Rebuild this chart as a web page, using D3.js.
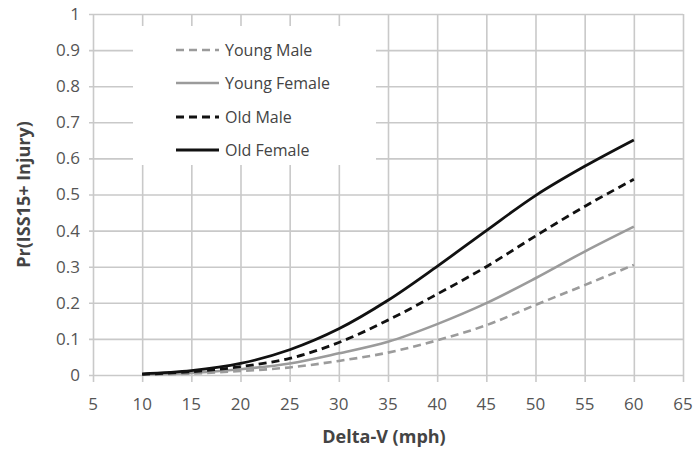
<!DOCTYPE html>
<html>
<head>
<meta charset="utf-8">
<script src="https://cdn.jsdelivr.net/npm/d3@7"></script>
<style>
  body { margin: 0; background: #fff; }
  svg { display: block; font-family: "Open Sans", "DejaVu Sans", sans-serif; }
</style>
</head>
<body>
<svg id="chart" width="696" height="453"></svg>
<script>
// Delta-V (mph) sample points
const deltaV = [10, 15, 20, 25, 30, 35, 40, 45, 50, 55, 60];

// Probability of ISS15+ injury per group
const youngMale   = [0.001, 0.004, 0.011, 0.021, 0.039, 0.062, 0.096, 0.138, 0.194, 0.249, 0.305];
const youngFemale = [0.002, 0.006, 0.016, 0.032, 0.060, 0.092, 0.141, 0.199, 0.268, 0.342, 0.411];
const oldMale     = [0.002, 0.009, 0.023, 0.046, 0.090, 0.152, 0.224, 0.300, 0.385, 0.467, 0.542];
const oldFemale   = [0.003, 0.012, 0.032, 0.070, 0.128, 0.207, 0.301, 0.400, 0.497, 0.578, 0.651];

const xTicks = [5, 10, 15, 20, 25, 30, 35, 40, 45, 50, 55, 60, 65];
const yTicks = [0, 0.1, 0.2, 0.3, 0.4, 0.5, 0.6, 0.7, 0.8, 0.9, 1];

const seriesNames = ["Young Male", "Young Female", "Old Male", "Old Female"];
const seriesValues = [youngMale, youngFemale, oldMale, oldFemale];
const seriesStyle = [
  { color: "#9b9b9b", dash: "8,5", width: 2.6 },
  { color: "#9b9b9b", dash: null, width: 2.6 },
  { color: "#111", dash: "8,5", width: 2.8 },
  { color: "#111", dash: null, width: 2.8 }
];

const svg = d3.select("#chart");
const margin = { left: 93, right: 13, top: 14, bottom: 78 };
const W = 696, H = 453;

const x = d3.scaleLinear().domain([5, 65]).range([margin.left, W - margin.right]);
const y = d3.scaleLinear().domain([0, 1]).range([H - margin.bottom, margin.top]);

const gridColor = "#c9c9c9";

// vertical grid + bottom tick marks
svg.append("g")
  .attr("transform", `translate(0,${y(0)})`)
  .call(d3.axisBottom(x).tickValues(xTicks).tickSize(-(y(0) - y(1))).tickSizeOuter(0).tickFormat(""))
  .call(g => g.select(".domain").remove())
  .call(g => g.selectAll("line").attr("stroke", gridColor).attr("stroke-width", 1.6)
    .attr("y2", -(y(0) - y(1))).attr("y1", 7));

// horizontal grid + left tick marks
svg.append("g")
  .attr("transform", `translate(${x(5)},0)`)
  .call(d3.axisLeft(y).tickValues(yTicks).tickSize(-(x(65) - x(5))).tickFormat(""))
  .call(g => g.select(".domain").remove())
  .call(g => g.selectAll("line").attr("stroke", gridColor).attr("stroke-width", 1.6)
    .attr("x1", -4));

// tick labels
svg.append("g").selectAll("text").data(xTicks).join("text")
  .attr("x", d => x(d)).attr("y", y(0) + 29).attr("dy", "0.35em")
  .attr("text-anchor", "middle")
  .attr("font-size", 17).attr("fill", "#555")
  .text(d => d);

svg.append("g").selectAll("text").data(yTicks).join("text")
  .attr("x", 80).attr("y", d => y(d)).attr("dy", "0.35em")
  .attr("text-anchor", "end")
  .attr("font-size", 17).attr("fill", "#555")
  .text(d => d3.format("~g")(d));

// axis titles
svg.append("text")
  .attr("x", 384).attr("y", 437).attr("dy", "0.35em")
  .attr("text-anchor", "middle")
  .attr("font-size", 18).attr("font-weight", "bold").attr("fill", "#444")
  .text("Delta-V (mph)");

svg.append("text")
  .attr("transform", `translate(24,${y(0.5)}) rotate(-90)`)
  .attr("text-anchor", "middle").attr("dy", "0.35em")
  .attr("font-size", 18).attr("font-weight", "bold").attr("fill", "#444")
  .text("Pr(ISS15+ Injury)");

// legend box
const legend = svg.append("g");
legend.append("rect")
  .attr("x", 133).attr("y", 26).attr("width", 243).attr("height", 139)
  .attr("fill", "#fff");

const legendY = [50, 83, 117, 150];
seriesNames.forEach((name, i) => {
  legend.append("line")
    .attr("x1", 176).attr("x2", 219)
    .attr("y1", legendY[i]).attr("y2", legendY[i])
    .attr("stroke", seriesStyle[i].color).attr("stroke-width", seriesStyle[i].width)
    .attr("stroke-dasharray", seriesStyle[i].dash);
  legend.append("text")
    .attr("x", 225).attr("y", legendY[i]).attr("dy", "0.35em")
    .attr("font-size", 16).attr("fill", "#444")
    .text(name);
});

// curves
const line = d3.line()
  .x((d, i) => x(deltaV[i]))
  .y(d => y(d))
  .curve(d3.curveCatmullRom.alpha(0.5));

seriesValues.forEach((vals, i) => {
  svg.append("path")
    .datum(vals)
    .attr("d", line)
    .attr("fill", "none")
    .attr("stroke", seriesStyle[i].color)
    .attr("stroke-width", seriesStyle[i].width)
    .attr("stroke-dasharray", seriesStyle[i].dash);
});
</script>
</body>
</html>
